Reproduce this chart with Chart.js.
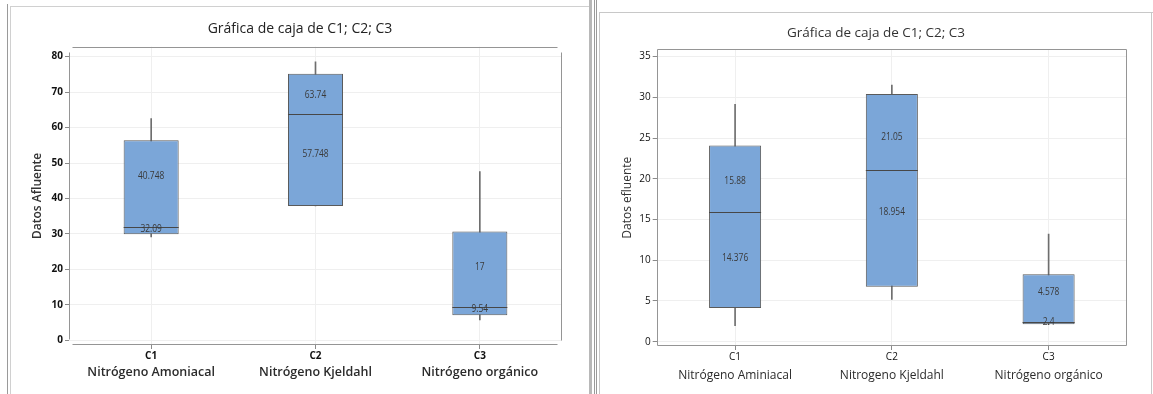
<!DOCTYPE html>
<html><head><meta charset="utf-8">
<script src="https://cdn.jsdelivr.net/npm/chart.js@4.4.1/dist/chart.umd.min.js"></script>
<style>
html,body{margin:0;padding:0;background:#fff;width:1153px;height:394px;overflow:hidden;position:relative;font-family:"Open Sans",sans-serif}
.ln{position:absolute}
#wa{position:absolute;left:12px;top:8px;width:576px;height:386px}
#wb{position:absolute;left:601px;top:13px;width:550px;height:381px}
</style></head><body>
<div class="ln" style="left:7px;top:4px;width:1px;height:390px;background:#9a9a9a"></div>
<div class="ln" style="left:10px;top:6px;width:1px;height:388px;background:#d0d0d0"></div>
<div class="ln" style="left:10px;top:6px;width:580px;height:1px;background:#d0d0d0"></div>
<div class="ln" style="left:589px;top:0;width:3px;height:394px;background:#b8b8b8"></div>
<div class="ln" style="left:594px;top:0;width:1px;height:394px;background:#9a9a9a"></div>
<div class="ln" style="left:596px;top:0;width:1px;height:394px;background:#9a9a9a"></div>
<div class="ln" style="left:599px;top:12px;width:1px;height:382px;background:#c8c8c8"></div>
<div class="ln" style="left:599px;top:12px;width:554px;height:1px;background:#c8c8c8"></div>
<div class="ln" style="left:1151px;top:12px;width:1px;height:382px;background:#c8c8c8"></div>
<div id="wa"><canvas id="ca"></canvas></div>
<div id="wb"><canvas id="cb"></canvas></div>
<script>
// ---------- data ----------
const categories = ['C1', 'C2', 'C3'];
const chartTitle = 'Gráfica de caja de C1; C2; C3';

// Afluente (left chart)
const afNames = ['Nitrógeno Amoniacal', 'Nitrógeno Kjeldahl', 'Nitrógeno orgánico'];
const afWhiskerLow  = [29.2, 37.9, 5.8];
const afQ1          = [29.9, 37.9, 7.1];
const afMedian      = [32.09, 63.74, 9.54];
const afQ3          = [56.4, 75.2, 30.7];
const afWhiskerHigh = [62.5, 78.5, 47.6];
const afMean        = [40.748, 57.748, 17];
const afTicks       = [0, 10, 20, 30, 40, 50, 60, 70, 80];

// Efluente (right chart)
const efNames = ['Nitrógeno Aminiacal', 'Nitrogeno Kjeldahl', 'Nitrógeno orgánico'];
const efWhiskerLow  = [1.97, 5.2, 2.1];
const efQ1          = [4.14, 6.75, 2.14];
const efMedian      = [15.88, 21.05, 2.4];
const efQ3          = [24.1, 30.4, 8.27];
const efWhiskerHigh = [29.15, 31.5, 13.2];
const efMean        = [14.376, 18.954, 4.578];
const efTicks       = [0, 5, 10, 15, 20, 25, 30, 35];

// ---------- drawing ----------
const FONT = '"Open Sans", "Noto Sans", sans-serif';

const boxDecor = {
  id: 'boxDecor',
  beforeDatasetsDraw(chart, args, o) {
    const {ctx, chartArea: a} = chart;
    ctx.save();
    ctx.strokeStyle = o.frameColor;
    ctx.lineWidth = 1;
    const L = Math.round(a.left) + 0.5, R = Math.round(a.right) - 0.5;
    const T = Math.round(a.top) + 0.5, B = Math.round(a.bottom) - 0.5;
    ctx.beginPath();
    if (o.openFrame) {
      ctx.moveTo(L + 3, T); ctx.lineTo(R - 4, T);
      ctx.moveTo(L + 3, B); ctx.lineTo(R - 4, B);
      ctx.moveTo(L, T + 5); ctx.lineTo(L, B - 5);
      ctx.moveTo(R, T + 5); ctx.lineTo(R, B - 4);
    } else {
      ctx.rect(L, T, R - L, B - T);
    }
    ctx.stroke();
    ctx.restore();
  },
  afterDatasetsDraw(chart, args, o) {
    const {ctx} = chart;
    const y = chart.scales.y;
    const meta = chart.getDatasetMeta(0);
    ctx.save();
    meta.data.forEach((bar, i) => {
      const ym = Math.round(y.getPixelForValue(o.median[i])) + 0.5;
      ctx.strokeStyle = '#474747';
      ctx.lineWidth = 1;
      ctx.beginPath();
      ctx.moveTo(bar.x - bar.width / 2, ym);
      ctx.lineTo(bar.x + bar.width / 2, ym);
      ctx.stroke();
      const lbl = (val, off, text) => {
        ctx.save();
        ctx.translate(bar.x, y.getPixelForValue(val) + off);
        ctx.scale(0.8, 1);
        ctx.font = '10.5px ' + FONT;
        ctx.fillStyle = '#3a3a3a';
        ctx.textAlign = 'center';
        ctx.textBaseline = 'middle';
        ctx.fillText(text, 0, 0);
        ctx.restore();
      };
      lbl(o.median[i], o.medianOff[i], String(o.median[i]));
      lbl(o.mean[i], o.meanOff[i], String(o.mean[i]));
    });
    ctx.restore();
  },
  afterDraw(chart, args, o) {
    const {ctx, chartArea: a} = chart;
    const x = chart.scales.x;
    ctx.save();
    ctx.fillStyle = o.titleColor;
    ctx.textAlign = 'center';
    ctx.textBaseline = 'middle';
    ctx.font = o.titleFont;
    ctx.fillText(o.title, chart.width / 2, o.titleY);
    ctx.fillStyle = '#2b2b2b';
    ctx.font = o.nameFont;
    o.names.forEach((n, i) => {
      ctx.fillText(n, x.getPixelForValue(i), a.bottom + o.nameDy);
    });
    ctx.restore();
  }
};

function makeChart(id, c) {
  return new Chart(document.getElementById(id), {
    type: 'bar',
    data: {
      labels: categories,
      datasets: [
        {
          data: c.q1.map((v, i) => [v, c.q3[i]]),
          backgroundColor: '#7ba6d8',
          borderColor: '#5a5a5a',
          borderWidth: 1,
          borderSkipped: false,
          grouped: false,
          categoryPercentage: 1,
          barPercentage: c.barPct,
          order: 1
        },
        {
          data: c.wl.map((v, i) => [v, c.wh[i]]),
          backgroundColor: '#6e6e6e',
          borderWidth: 0,
          barThickness: 1,
          grouped: false,
          order: 2
        }
      ]
    },
    options: {
      responsive: true,
      maintainAspectRatio: false,
      animation: false,
      layout: {padding: {top: c.padTop, right: c.padRight, left: 0, bottom: 0}},
      plugins: {
        legend: {display: false},
        tooltip: {enabled: false},
        title: {display: false},
        boxDecor: {
          frameColor: '#959595',
          openFrame: c.openFrame,
          median: c.median, mean: c.mean,
          medianOff: c.medianOff, meanOff: c.meanOff,
          title: chartTitle, titleY: c.titleY, titleFont: c.titleFont, titleColor: c.titleColor,
          names: c.names, nameFont: c.nameFont, nameDy: c.nameDy
        }
      },
      scales: {
        x: {
          offset: true,
          grid: {offset: false, color: '#efefef', tickLength: 4, tickColor: '#8a8a8a'},
          border: {display: false},
          ticks: {color: '#111', font: {family: FONT, size: c.tickSize, weight: c.tickWeight}, padding: 1, maxRotation: 0},
          afterFit(s) { s.height = c.xH; }
        },
        y: {
          min: c.min, max: c.max,
          afterBuildTicks(s) { s.ticks = c.ticks.map(v => ({value: v})); },
          grid: {color: '#efefef', tickLength: 4, tickColor: '#8a8a8a'},
          border: {display: false},
          ticks: {color: '#111', font: {family: FONT, size: c.tickSize, weight: c.tickWeight}, padding: 2},
          title: {display: true, text: c.yTitle, color: '#333', font: {family: FONT, size: 12, weight: c.yTitleWeight}, padding: {top: c.yTitlePad, bottom: 0}},
          afterFit(s) { s.width = c.yW; }
        }
      }
    },
    plugins: [boxDecor]
  });
}

makeChart('ca', {
  q1: afQ1, q3: afQ3, wl: afWhiskerLow, wh: afWhiskerHigh, median: afMedian, mean: afMean,
  medianOff: [2.5, -19.3, 2.5], meanOff: [-19.6, 18.1, -13],
  names: afNames, ticks: afTicks, min: -1.3, max: 82.8,
  barPct: 0.335, padTop: 38.7, padRight: 26, xH: 49, yW: 57,
  titleY: 21.3, titleFont: '14px ' + FONT, titleColor: '#222', nameFont: '600 12.5px ' + FONT, nameDy: 27.7,
  tickSize: 10, tickWeight: 'bold', yTitle: 'Datos Afluente', yTitleWeight: '600', yTitlePad: 18.5,
  openFrame: true
});

makeChart('cb', {
  q1: efQ1, q3: efQ3, wl: efWhiskerLow, wh: efWhiskerHigh, median: efMedian, mean: efMean,
  medianOff: [-31.4, -33.6, 0], meanOff: [33.1, 24.9, -12.7],
  names: efNames, ticks: efTicks, min: -0.53, max: 35.9,
  barPct: 0.332, padTop: 36.3, padRight: 24, xH: 48, yW: 55.7,
  titleY: 19.7, titleFont: '13.5px ' + FONT, titleColor: '#333', nameFont: '12px ' + FONT, nameDy: 30,
  tickSize: 10, tickWeight: 'normal', yTitle: 'Datos efluente', yTitleWeight: 'normal', yTitlePad: 19.5,
  openFrame: false
});
</script>
</body></html>
